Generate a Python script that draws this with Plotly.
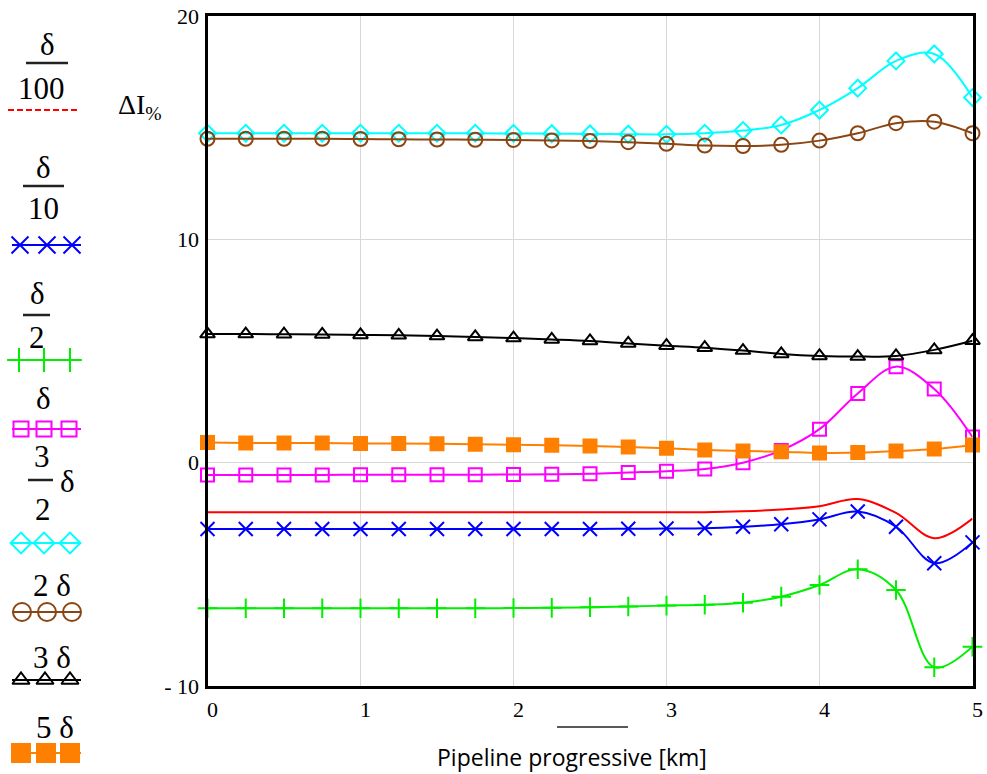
import plotly.graph_objects as go

# ---------------- data ----------------
x_km = [0, 0.25, 0.5, 0.75, 1.0, 1.25, 1.5, 1.75, 2.0, 2.25, 2.5, 2.75,
        3.0, 3.25, 3.5, 3.75, 4.0, 4.25, 4.5, 4.75, 5.0]

d_100 = [-2.22, -2.22, -2.22, -2.22, -2.22, -2.22, -2.22, -2.22, -2.22, -2.22, -2.22, -2.22,
         -2.22, -2.22, -2.18, -2.1, -1.95, -1.63, -2.25, -3.38, -2.5]
d_10 = [-2.97, -2.97, -2.97, -2.97, -2.97, -2.97, -2.97, -2.97, -2.97, -2.97, -2.97, -2.96,
        -2.95, -2.94, -2.87, -2.76, -2.54, -2.19, -2.87, -4.5, -3.57]
d_2 = [-6.52, -6.52, -6.52, -6.52, -6.52, -6.52, -6.52, -6.52, -6.51, -6.5, -6.47, -6.44,
       -6.4, -6.36, -6.27, -6.0, -5.48, -4.77, -5.7, -9.16, -8.24]
d_1 = [-0.55, -0.55, -0.55, -0.55, -0.54, -0.54, -0.54, -0.54, -0.53, -0.52, -0.5, -0.44,
       -0.38, -0.28, 0.0, 0.55, 1.5, 3.1, 4.3, 3.3, 1.15]
d_15 = [14.75, 14.75, 14.75, 14.75, 14.75, 14.75, 14.75, 14.75, 14.74, 14.73, 14.72, 14.71,
        14.7, 14.75, 14.87, 15.12, 15.79, 16.77, 17.99, 18.3, 16.35]
d_2x = [14.5, 14.5, 14.5, 14.5, 14.49, 14.48, 14.47, 14.46, 14.45, 14.43, 14.4, 14.35,
        14.28, 14.2, 14.18, 14.23, 14.42, 14.75, 15.2, 15.27, 14.75]
d_3x = [5.76, 5.76, 5.75, 5.74, 5.72, 5.7, 5.67, 5.63, 5.58, 5.52, 5.45, 5.34,
        5.24, 5.15, 5.02, 4.87, 4.78, 4.75, 4.78, 5.05, 5.46]
d_5x = [0.9, 0.88, 0.88, 0.88, 0.86, 0.86, 0.85, 0.83, 0.8, 0.78, 0.75, 0.7,
        0.64, 0.57, 0.52, 0.49, 0.43, 0.45, 0.52, 0.61, 0.79]

y_tickvals = [-10, 0, 10, 20]
y_ticktext = ["- 10", "0", "10", "20"]
x_tickvals = [0, 1, 2, 3, 4, 5]
x_ticktext = ["0", "1", "2", "3", "4", "5"]

series = [
    # name, values, color, symbol, size
    ("δ/100", d_100, "#FF0000", None, 0),
    ("δ/10", d_10, "#0000FF", "x-thin-open", 14),
    ("δ/2", d_2, "#00EE00", "cross-thin-open", 14),
    ("δ", d_1, "#FF00FF", "square-open", 13),
    ("3/2 δ", d_15, "#00FFFF", "diamond-open", 13),
    ("2 δ", d_2x, "#8B4513", "circle-open", 14),
    ("3 δ", d_3x, "#000000", "triangle-up-open", 13),
    ("5 δ", d_5x, "#FF8000", "square", 13),
]

W, H = 987, 774
fig = go.Figure()

for name, vals, col, sym, sz in series:
    if sym is None:
        fig.add_trace(go.Scatter(x=x_km, y=vals, mode="lines", name=name,
                                 line=dict(color=col, width=2, shape="spline"),
                                 showlegend=False))
    else:
        fig.add_trace(go.Scatter(x=x_km, y=vals, mode="lines+markers", name=name,
                                 line=dict(color=col, width=2, shape="spline"),
                                 marker=dict(symbol=sym, size=sz, color=col,
                                             line=dict(color=col, width=2)),
                                 showlegend=False, cliponaxis=False))

# ---------------- custom legend (pixel overlay axis) ----------------
leg_samples = [
    # color, symbol, size, y, xs
    ("#0000FF", "x-thin-open", 17, 245, [20, 47, 72]),
    ("#00EE00", "cross-thin-open", 17, 360, [19, 44, 70]),
    ("#FF00FF", "square-open", 15, 429, [21, 44, 69]),
    ("#00FFFF", "diamond-open", 16, 543, [21, 44, 70]),
    ("#8B4513", "circle-open", 18, 612, [22, 47, 72]),
    ("#000000", "triangle-up-open", 15, 680, [21, 45, 70]),
    ("#FF8000", "square", 18, 753, [21, 46, 70]),
]
for col, sym, sz, yy, xs in leg_samples:
    fig.add_trace(go.Scatter(x=[12, 81], y=[yy, yy], mode="lines", xaxis="x2", yaxis="y2",
                             line=dict(color=col, width=2), showlegend=False, hoverinfo="skip"))
    fig.add_trace(go.Scatter(x=xs, y=[yy] * len(xs), mode="markers", xaxis="x2", yaxis="y2",
                             marker=dict(symbol=sym, size=sz, color=col, line=dict(color=col, width=2)),
                             showlegend=False, hoverinfo="skip"))
fig.add_trace(go.Scatter(x=[8, 79], y=[110, 110], mode="lines", xaxis="x2", yaxis="y2",
                         line=dict(color="#FF0000", width=2, dash="6px,3px"),
                         showlegend=False, hoverinfo="skip"))

serif = "Liberation Serif"
tc = "#000000"
legend_text = [
    ("δ", 47, 44), ("100", 41, 88),
    ("δ", 43, 167), ("10", 43, 208),
    ("δ", 37, 293), ("2", 37, 337),
    ("δ", 43, 398),
    ("3", 42, 456), ("δ", 67, 481), ("2", 43, 509),
    ("2 δ", 52, 585),
    ("3 δ", 52, 657),
    ("5 δ", 55, 727),
]
annotations = []
for t, xx, yy in legend_text:
    annotations.append(dict(text=t, x=xx, y=yy, xref="x2", yref="y2", showarrow=False,
                            font=dict(family=serif, size=31, color=tc),
                            xanchor="center", yanchor="middle"))

shapes = []
for x0, x1, yy in [(26, 68, 63), (23, 64, 186), (23, 50, 315), (28, 53, 480)]:
    shapes.append(dict(type="line", xref="x2", yref="y2", x0=x0, x1=x1, y0=yy, y1=yy,
                       line=dict(color="#222222", width=2.5)))
# small stray bar under the axis
shapes.append(dict(type="line", xref="x2", yref="y2", x0=557, x1=628, y0=727, y1=727,
                   line=dict(color="#222222", width=1.5)))

annotations.append(dict(text="ΔI<sub>%</sub>", x=140, y=106, xref="x2", yref="y2",
                        showarrow=False, font=dict(family=serif, size=28, color=tc),
                        xanchor="center", yanchor="middle"))
annotations.append(dict(text="Pipeline progressive [km]", x=572, y=757, xref="x2", yref="y2",
                        showarrow=False, font=dict(family="Open Sans", size=23, color=tc),
                        xanchor="center", yanchor="middle"))

x0p, x1p, ytop, ybot = 207.5, 972.5, 16, 686

fig.update_layout(
    width=W, height=H, autosize=False,
    margin=dict(l=0, r=0, t=0, b=0, pad=0),
    paper_bgcolor="white", plot_bgcolor="rgba(0,0,0,0)",
    showlegend=False,
    xaxis=dict(domain=[x0p / W, x1p / W], range=[0, 5], tickvals=x_tickvals, ticktext=x_ticktext,
               showgrid=True, gridcolor="#d8d8d8", gridwidth=1, zeroline=False, automargin=False,
               showline=True, linecolor="black", linewidth=3, mirror=True, ticks="",
               tickfont=dict(family=serif, size=22, color=tc),
               ticklabelstandoff=2, ticklabelshift=5),
    yaxis=dict(domain=[(H - ybot) / H, (H - ytop) / H], range=[-10, 20],
               tickvals=y_tickvals, ticktext=y_ticktext, automargin=False,
               showgrid=True, gridcolor="#d8d8d8", gridwidth=1, zeroline=False,
               showline=True, linecolor="black", linewidth=3, mirror=True, ticks="",
               tickfont=dict(family=serif, size=22, color=tc),
               ticklabelstandoff=1),
    xaxis2=dict(domain=[0, 1], range=[0, W], visible=False, fixedrange=True, automargin=False),
    yaxis2=dict(domain=[0, 1], range=[H, 0], visible=False, fixedrange=True, automargin=False),
    annotations=annotations,
    shapes=shapes,
)

fig.write_html("out.html", config={"displayModeBar": False},
               post_script="document.body.style.margin='0';document.body.style.overflow='hidden';"
                           "document.documentElement.style.overflow='hidden';")
